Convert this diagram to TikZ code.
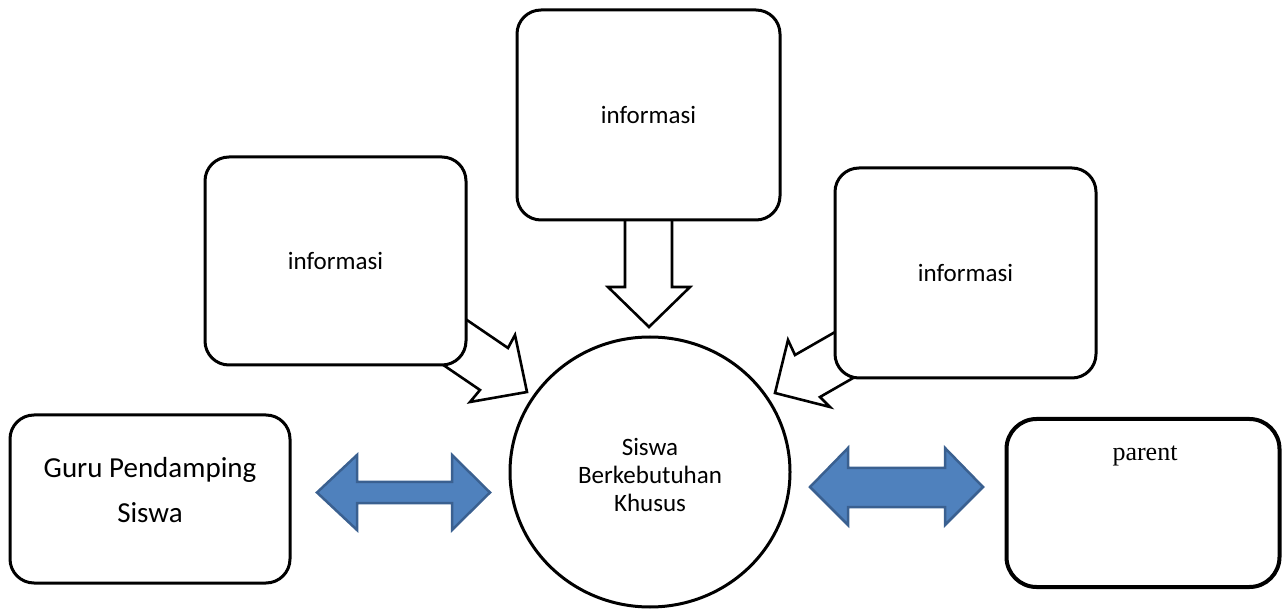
\documentclass[tikz,border=0pt]{standalone}
\usepackage{fontspec}
\newfontfamily\calibrifont{Carlito}
\newfontfamily\timesfont{Liberation Serif}
\usetikzlibrary{shapes.geometric}
\definecolor{blockblue}{HTML}{4F81BD}
\definecolor{blockline}{HTML}{3A6090}
\tikzset{
  infobox/.style={draw=black, line width=3pt, fill=white, rounded corners=24pt, inner sep=0pt,
    font=\calibrifont\fontsize{25}{30}\selectfont, align=center},
  hollowarrow/.style={draw=black, line width=2.6pt, fill=white, line join=miter},
  bluearrow/.style={draw=blockline, line width=2.5pt, fill=blockblue, line join=miter},
  calibritext/.style={font=\calibrifont\fontsize{25}{28}\selectfont, align=center, inner sep=0pt},
}
\begin{document}
\begin{tikzpicture}[x=1pt,y=-1pt]
\useasboundingbox (0,0) rectangle (1283,609);

% hollow arrows (drawn under the boxes)
\draw[hollowarrow] (439,301) -- (508,348) -- (515,335) -- (527,392) -- (470,402) -- (480,390) -- (411,343) -- cycle;
\draw[hollowarrow] (863,316) -- (795,355) -- (788,340) -- (775,393) -- (830,407) -- (820,397) -- (888,358) -- cycle;
\draw[hollowarrow] (625,205) -- (625,287) -- (608,287) -- (649,327) -- (690,287) -- (672,287) -- (672,205) -- cycle;

% boxes
\node[infobox, minimum width=263pt, minimum height=210pt] (top) at (648.5,115) {informasi};
\node[infobox, minimum width=261pt, minimum height=208pt] (left) at (335.5,261) {informasi};
\node[infobox, minimum width=261pt, minimum height=210pt] (right) at (965.5,273) {informasi};

\node[infobox, minimum width=280pt, minimum height=168pt] (guru) at (150,499) {};
\node[font=\calibrifont\fontsize{29}{45}\selectfont, align=center, inner sep=0pt] (gurutext) at (150,490) {Guru Pendamping\\Siswa};

\node[draw=black, line width=4pt, fill=white, rounded corners=30pt, minimum width=273pt, minimum height=168pt] (parent) at (1143,503) {};
\node[font=\timesfont\fontsize{26}{30}\selectfont, inner sep=0pt] (parenttext) at (1145,456) {parent};

% circle
\node[draw=black, line width=3pt, fill=white, ellipse, minimum width=280pt, minimum height=270pt, inner sep=0pt] (siswa) at (650,472) {};
\node[calibritext] (siswatext) at (650,475) {Siswa\\Berkebutuhan\\Khusus};

% blue double arrows
\draw[bluearrow] (317,492.5) -- (357,455) -- (357,482) -- (452,482) -- (452,455) -- (490,492.5) -- (452,530) -- (452,503) -- (357,503) -- (357,530) -- cycle;
\draw[bluearrow] (810,487) -- (848,448) -- (848,468) -- (945,468) -- (945,448) -- (983,487) -- (945,525) -- (945,507) -- (848,507) -- (848,525) -- cycle;
\end{tikzpicture}
\end{document}
